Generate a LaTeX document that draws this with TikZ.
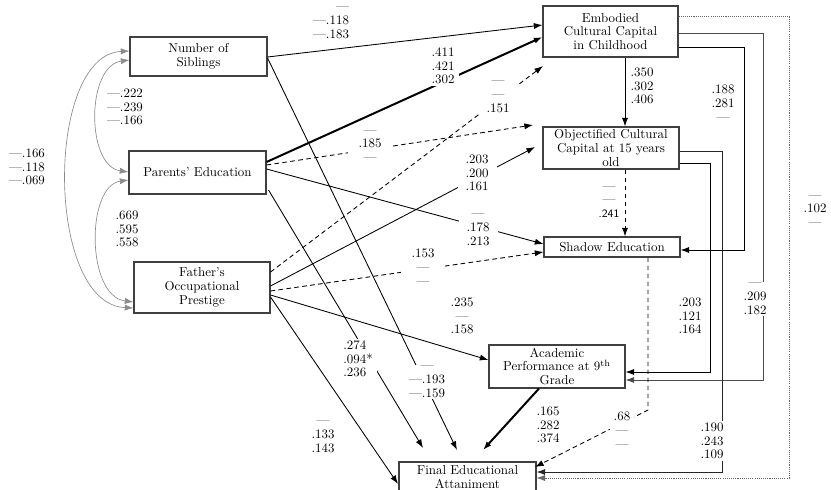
\documentclass[tikz,border=0pt]{standalone}
\usetikzlibrary{arrows.meta,calc}
\begin{document}
\begin{tikzpicture}[x=0.75pt,y=-0.75pt,
  font=\fontsize{9.7}{10.3}\selectfont,
  box/.style={draw=black!75,line width=0.8pt,align=center,inner sep=0pt,fill=white},
  lbl/.style={align=center,inner sep=1pt},
  gap/.style={lbl,fill=white,inner xsep=3pt},
  conn/.style={line width=0.65pt,-{Latex[length=6.5pt,width=4.6pt]}},
  thickc/.style={conn,line width=1.5pt},
  dsh/.style={conn,dash pattern=on 3.5pt off 2.5pt},
  dotc/.style={conn,draw=black!60,line width=0.5pt,dash pattern=on 0.8pt off 0.8pt},
  dbl/.style={draw=black!45,line width=0.5pt,{Latex[length=6.5pt,width=4.6pt]}-{Latex[length=6.5pt,width=4.6pt]}},
]
\useasboundingbox (0,0) rectangle (831,489);

% boxes
\node[box,minimum width=102.75pt,minimum height=29.25pt] (sib) at (198.5,56.5) {Number of\\Siblings};
\node[box,minimum width=102.75pt,minimum height=32.25pt] (par) at (197.5,172.5) {Parents' Education};
\node[box,minimum width=102pt,minimum height=38.25pt] (fat) at (202,287.5) {Father's\\Occupational\\Prestige};
\node[box,minimum width=101.25pt,minimum height=38.25pt] (emb) at (610.5,31.5) {Embodied\\Cultural Capital\\in Childhood};
\node[box,minimum width=102pt,minimum height=31.5pt] (obj) at (611,148) {Objectified Cultural\\Capital at 15 years\\old};
\node[box,minimum width=102pt,minimum height=15pt] (sha) at (612,247) {Shadow Education};
\node[box,minimum width=102pt,minimum height=32.25pt] (aca) at (557,366.5) {Academic\\Performance at 9\textsuperscript{th}\\Grade};
\node[box,minimum width=102.75pt,minimum height=22.5pt] (fin) at (467.5,477) {Final Educational\\Attaniment};

% free ends
\coordinate (e3) at (533,125);
\coordinate (e5) at (423,448);
\coordinate (e6) at (457,450);
\coordinate (e7) at (543,66);
\coordinate (e8) at (535,147);
\coordinate (e11) at (398,484);
\coordinate (e17) at (535,467);
\coordinate (e20) at (483,450);

% correlations
\draw[dbl] (sib.west |- 0,60) .. controls (86,66) and (86,166) .. (par.west |- 0,172);
\draw[dbl] (sib.west |- 0,51) .. controls (45,55) and (45,304) .. (fat.west |- 0,308);
\draw[dbl] (par.west |- 0,180) .. controls (86,186) and (86,296) .. (fat.west |- 0,302);

% paths
\draw[conn] (sib.east |- 0,57) -- (emb.west |- 0,25);
\draw[conn] (sib.east |- 0,58) -- (e6);
\draw[thickc] (par.east |- 0,162) -- (emb.west |- 0,37);
\draw[dsh] (par.east |- 0,165) -- (e3);
\draw[conn] (par.east |- 0,169) -- (sha.west |- 0,244);
\draw[conn] ([xshift=1.5pt]par.east |- 0,190) -- (e5);
\draw[dsh] (fat.east |- 0,272) -- (e7);
\draw[conn] (fat.east |- 0,286) -- (e8);
\draw[dsh] (fat.east |- 0,291) -- (sha.west |- 0,252);
\draw[conn] (fat.east |- 0,295) -- (aca.west |- 0,360);
\draw[conn] (fat.east |- 0,297) -- (e11);
\draw[conn] (emb.south -| 625,0) -- (obj.north -| 625,0);
\draw[dsh] (obj.south -| 625,0) -- (sha.north -| 625,0);
\draw[conn] (emb.east |- 0,47) -| (744,250) -- (sha.east |- 0,250);
\draw[conn,draw=black!70] (emb.east |- 0,33) -| (763,380) -- (aca.east |- 0,380);
\draw[dotc] (emb.east |- 0,16) -| (789,478) -- (fin.east |- 0,478);
\draw[conn,draw=black!85] (obj.east |- 0,151) -| (722,472) -- (fin.east |- 0,472);
\draw[conn] (obj.east |- 0,163) -| (710,372) -- (aca.east |- 0,372);
\draw[dsh] (sha.south -| 648,0) -- (648,410) -- (e17);
\draw[thickc] (aca.south -| 539,0) -- (e20);

% labels
\node[lbl] (l1) at (125,107) {---.222\\---.239\\---.166};
\node[lbl] (l2) at (27,167) {---.166\\---.118\\---.069};
\node[lbl] (l3) at (127,229) {.669\\.595\\.558};
\node[lbl,align=right] (l4) at (331,23) {---\\---.118\\---.183};
\node[gap] (l5) at (443,66) {.411\\.421\\.302};
\node[gap,inner xsep=8pt] (l6) at (370,146) {---\\.185\\---};
\node[gap,inner xsep=6pt] (l7) at (498,97) {---\\---\\.151};
\node[gap,inner xsep=6pt] (l8) at (477,173) {.203\\.200\\.161};
\node[gap,inner xsep=6pt] (l9) at (478,230) {---\\.178\\.213};
\node[gap,inner xsep=8pt] (l10) at (423,267) {.153\\---\\---};
\node[lbl] (l11) at (462,316) {.235\\---\\.158};
\node[gap,align=left] (l12) at (358,359) {.274\\.094*\\.236};
\node[gap] (l13) at (427,382) {---\\---.193\\---.159};
\node[lbl] (l14) at (323,437) {---\\.133\\.143};
\node[lbl] (l15) at (642,86) {.350\\.302\\.406};
\node[gap] (l16) at (609,202) {---\\---\\{\sffamily\fontsize{8.5}{10}\selectfont .241}};
\node[lbl] (l17) at (723,103) {.188\\.281\\---};
\node[gap] (l18) at (755,299) {---\\.209\\.182};
\node[lbl] (l19) at (690,316) {.203\\.121\\.164};
\node[gap] (l20) at (712,441) {.190\\.243\\.109};
\node[gap] (l21) at (622,430) {.68\\---\\---};
\node[lbl] (l22) at (548,425) {.165\\.282\\.374};
\node[lbl] (l23) at (815,211) {---\\.102\\---};
\end{tikzpicture}
\end{document}
